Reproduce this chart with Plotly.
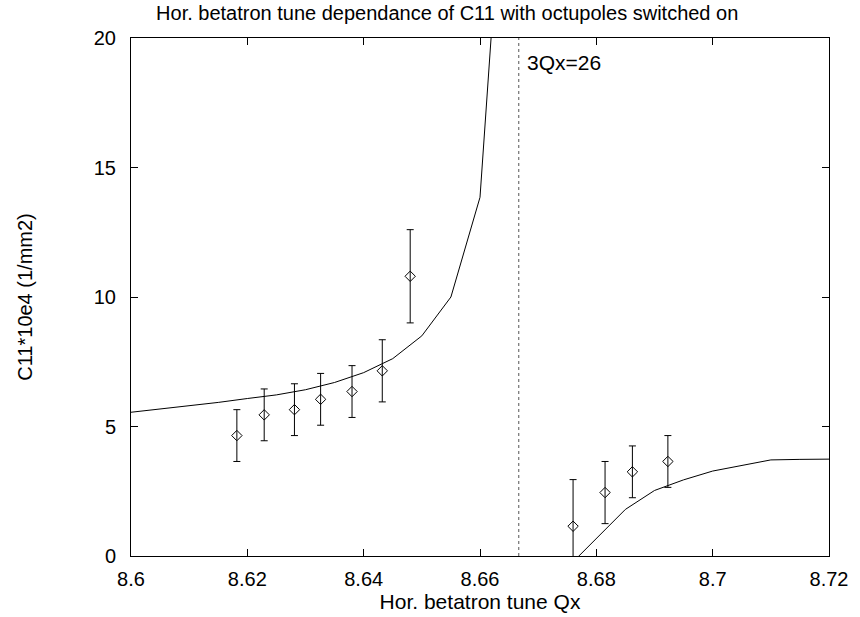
import plotly.graph_objects as go

# Measured data points
qx_meas = [8.6182, 8.6229, 8.6281, 8.6326, 8.6380, 8.6432, 8.6480,
           8.6760, 8.6815, 8.6862, 8.6923]
c11_meas = [4.65, 5.45, 5.65, 6.05, 6.35, 7.15, 10.8,
            1.15, 2.45, 3.25, 3.65]
c11_err = [1.0, 1.0, 1.0, 1.0, 1.0, 1.2, 1.8,
           1.8, 1.2, 1.0, 1.0]

# Theory curve below resonance
qx_left = [8.600, 8.605, 8.610, 8.615, 8.620, 8.625, 8.630, 8.635,
           8.640, 8.645, 8.650, 8.655, 8.660, 8.665]
c11_left = [5.55, 5.67, 5.80, 5.93, 6.08, 6.22, 6.42, 6.70,
            7.08, 7.62, 8.50, 10.0, 13.85, 30.0]

# Theory curve above resonance
qx_right = [8.675, 8.680, 8.685, 8.690, 8.695, 8.700, 8.705, 8.710, 8.715, 8.720]
c11_right = [-0.45, 0.68, 1.80, 2.53, 2.94, 3.28, 3.50, 3.71, 3.73, 3.74]

resonance_qx = 26 / 3
x_ticks = [8.6, 8.62, 8.64, 8.66, 8.68, 8.7, 8.72]
x_ticklabels = ["8.6", "8.62", "8.64", "8.66", "8.68", "8.7", "8.72"]
y_ticks = [0, 5, 10, 15, 20]

FONT = "Liberation Sans, Arial, sans-serif"

fig = go.Figure()
fig.add_trace(go.Scatter(x=qx_left, y=c11_left, mode="lines",
                         line=dict(color="black", width=1), showlegend=False))
fig.add_trace(go.Scatter(x=qx_right, y=c11_right, mode="lines",
                         line=dict(color="black", width=1), showlegend=False))
fig.add_trace(go.Scatter(
    x=qx_meas, y=c11_meas, mode="markers",
    marker=dict(symbol="diamond-open", size=8, color="black", line=dict(width=1, color="black")),
    error_y=dict(type="data", array=c11_err, visible=True, color="black", thickness=1, width=3.5),
    showlegend=False, cliponaxis=True))
fig.add_trace(go.Scatter(x=[resonance_qx, resonance_qx], y=[0, 20], mode="lines",
                         line=dict(color="#555555", width=1, dash="dot"), showlegend=False))

fig.add_annotation(x=resonance_qx, y=20, xref="x", yref="y", text="3Qx=26",
                   showarrow=False, xanchor="left", yanchor="top", xshift=6, yshift=-11,
                   font=dict(family=FONT, size=21, color="black"))

axis_common = dict(showgrid=False, zeroline=False, showline=True, linecolor="black",
                   linewidth=1, mirror="ticks", ticks="inside", ticklen=7,
                   tickcolor="black", tickwidth=1,
                   tickfont=dict(family=FONT, size=20, color="black"))

fig.update_layout(
    width=860, height=617,
    margin=dict(l=131, r=23, t=38, b=60),
    paper_bgcolor="white", plot_bgcolor="white",
    title=dict(text="Hor. betatron tune dependance of C11 with octupoles switched on",
               x=0.52, xanchor="center", y=0.99, yanchor="top",
               font=dict(family=FONT, size=20, color="black")),
    xaxis=dict(range=[8.6, 8.72], tickvals=x_ticks, ticktext=x_ticklabels,
               ticklabelstandoff=5,
               title=dict(text="Hor. betatron tune Qx", standoff=0,
                          font=dict(family=FONT, size=21, color="black")),
               **axis_common),
    yaxis=dict(range=[0, 20], tickvals=y_ticks, ticklabelstandoff=10,
               title=dict(text="C11*10e4 (1/mm2)", standoff=55,
                          font=dict(family=FONT, size=20, color="black")),
               **axis_common),
)

fig.write_html("out.html")
